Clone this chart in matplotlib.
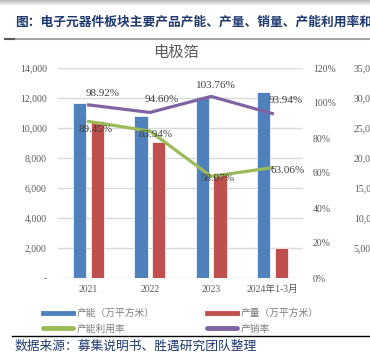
import numpy as np
import matplotlib.pyplot as plt
from matplotlib.lines import Line2D

plt.rcParams['font.family'] = ['Liberation Serif', 'Noto Sans CJK SC']

# data
years = ['2021', '2022', '2023', '2024年1-3月']
capacity = [11700, 10780, 12040, 12380]      # 产能（万平方米）
output = [10460, 9050, 7000, 1990]           # 产量（万平方米）
utilization = [89.45, 83.94, 58.07, 63.06]   # 产能利用率 %
sales_rate = [98.92, 94.60, 103.76, 93.94]   # 产销率 %

left_ticks = [0, 2000, 4000, 6000, 8000, 10000, 12000, 14000]
left_labels = ['-', '2,000', '4,000', '6,000', '8,000', '10,000', '12,000', '14,000']
right_ticks = [0, 20, 40, 60, 80, 100, 120]
# tick labels of the neighbouring chart that shows at the right edge
other_ticks = [5000, 10000, 15000, 20000, 25000, 30000, 35000]

blue = '#4F81BD'
red = '#C0504D'
green = '#9BBB59'
purple = '#8064A2'
navy = '#1F3A6E'
grey_txt = '#595959'

W, H = 370, 353
fig = plt.figure(figsize=(W / 100, H / 100), dpi=100)

def fx(px):
    return px / W

def fy(py):
    return 1 - py / H

# top shadow band
band = fig.add_axes([0, fy(6), 1, 6 / H])
band.imshow(np.linspace(0.72, 1.0, 20).reshape(-1, 1), cmap='gray', vmin=0, vmax=1,
            aspect='auto', extent=[0, 1, 0, 1])
band.axis('off')

fig.text(fx(15), fy(22), '图：电子元器件板块主要产品产能、产量、销量、产能利用率和销售单价',
         fontsize=9.2, fontweight='bold', color=navy, va='center', ha='left',
         family=['Noto Sans CJK SC'])
fig.add_artist(Line2D([fx(5), 1], [fy(39), fy(39)], color='#A6A6A6', lw=1.5))
fig.add_artist(Line2D([fx(5), fx(14)], [fy(39), fy(39)], color='#595959', lw=1.5))

fig.text(fx(176), fy(52), '电极箔', fontsize=11, color=grey_txt, ha='center', va='center',
         family=['Noto Sans CJK SC'])

ax = fig.add_axes([fx(58), fy(278), fx(303 - 58), (278 - 68) / H])
x = np.arange(len(years))
ax.bar(x - 0.145, capacity, width=0.22, color=blue, edgecolor='white', linewidth=0.5, zorder=2)
ax.bar(x + 0.145, output, width=0.22, color=red, edgecolor='white', linewidth=0.5, zorder=2)
ax.set_xlim(-0.5, 3.5)
ax.set_ylim(0, 14000)
ax.set_yticks(left_ticks)
ax.set_yticklabels(left_labels)
ax.set_xticks(x)
ax.set_xticklabels(years)
ax.yaxis.grid(True, color='#D9D9D9', lw=1, zorder=0)
ax.set_axisbelow(True)
for s in ax.spines.values():
    s.set_visible(False)
ax.tick_params(axis='y', length=0, pad=8, labelsize=7, labelcolor=grey_txt)
ax.tick_params(axis='x', length=0, pad=5, labelsize=7, labelcolor=grey_txt)

ax2 = ax.twinx()
ax2.plot(x, utilization, color=green, lw=2.3, zorder=3)
ax2.plot(x, sales_rate, color=purple, lw=2.3, zorder=3)
ax2.set_ylim(0, 120)
ax2.set_yticks(right_ticks)
ax2.set_yticklabels([f'{t}%' for t in right_ticks])
for s in ax2.spines.values():
    s.set_visible(False)
ax2.tick_params(axis='y', length=0, pad=7, labelsize=7, labelcolor=grey_txt)

util_off = [(7, -8), (6, -3), (6, -2), (15, -3)]
sales_off = [(14, 11), (12, 13), (5, 11), (13, 13)]
for i in range(len(years)):
    ax2.annotate(f'{utilization[i]:.2f}%', (x[i], utilization[i]), xytext=util_off[i],
                 textcoords='offset pixels', ha='center', va='center',
                 fontsize=8, color='#404040', zorder=4)
    ax2.annotate(f'{sales_rate[i]:.2f}%', (x[i], sales_rate[i]), xytext=sales_off[i],
                 textcoords='offset pixels', ha='center', va='center',
                 fontsize=8, color='#404040', zorder=4)

ax3 = ax.twinx()
ax3.set_ylim(0, 35000)
ax3.set_yticks(other_ticks)
ax3.set_yticklabels([f'{t:,}' for t in other_ticks])
for s in ax3.spines.values():
    s.set_visible(False)
ax3.tick_params(axis='y', length=0, pad=36.5, labelsize=7, labelcolor=grey_txt)

handles = [Line2D([], [], color=blue, lw=3.5),
           Line2D([], [], color=green, lw=3.5, solid_capstyle='round'),
           Line2D([], [], color=red, lw=3.5),
           Line2D([], [], color=purple, lw=3.5, solid_capstyle='round')]
labels = ['产能（万平方米）', '产能利用率', '产量（万平方米）', '产销率']
fig.legend(handles, labels, ncol=2, loc='upper left', bbox_to_anchor=(fx(43), fy(308)),
           frameon=False, borderpad=0, borderaxespad=0,
           handlelength=3.1, handletextpad=0.4, columnspacing=5.3, labelspacing=0.6,
           labelcolor='#7F7F7F', prop={'family': ['Noto Sans CJK SC'], 'size': 7})

fig.add_artist(Line2D([fx(12), 1], [fy(336), fy(336)], color='black', lw=1))
fig.text(fx(15), fy(346), '数据来源：募集说明书、胜遇研究团队整理', fontsize=9.2, color=navy,
         ha='left', va='center', family=['Noto Sans CJK SC'])

fig.savefig('out.png', dpi=100)
